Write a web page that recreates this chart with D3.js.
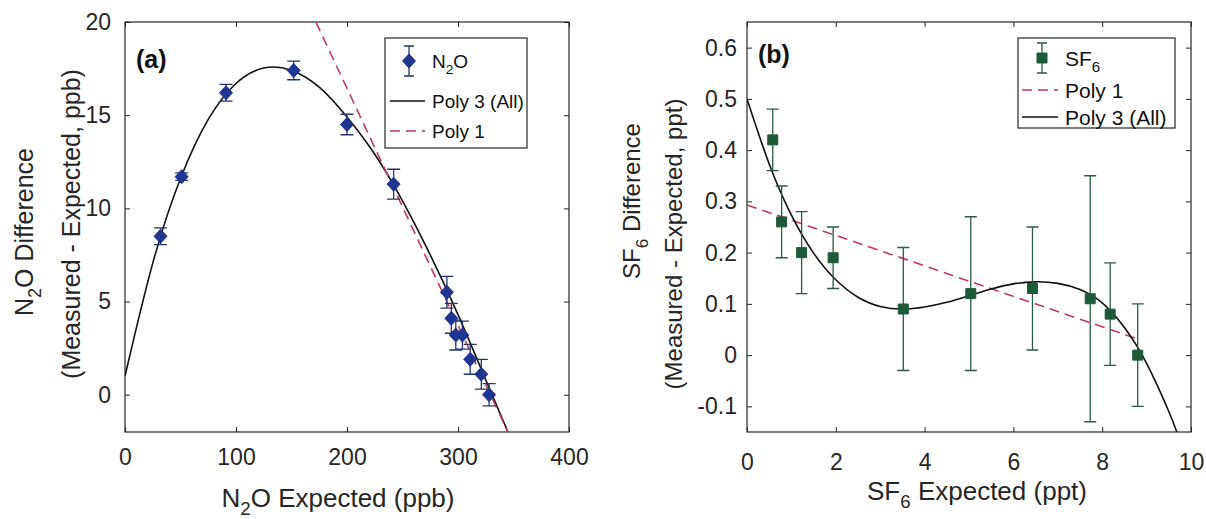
<!DOCTYPE html>
<html lang="en">
<head>
<meta charset="UTF-8">
<title>N2O and SF6 measured - expected differences</title>
<style>
  body { margin: 0; background: #fff; }
  svg { display: block; font-family: "Liberation Sans", Arial, Helvetica, sans-serif; }
</style>
</head>
<body>
<svg id="chart" width="1206" height="519"></svg>
<script src="https://cdnjs.cloudflare.com/ajax/libs/d3/7.8.5/d3.min.js"></script>
<script>

// ---- panel (a) : N2O ----
const n2oExpected = [32, 51, 91, 152, 200, 242, 290, 294, 298, 304, 311, 321, 328];
const n2oDiff     = [8.5, 11.7, 16.2, 17.4, 14.5, 11.3, 5.5, 4.1, 3.2, 3.2, 1.9, 1.1, 0.0];
const n2oErr      = [0.45, 0.2, 0.45, 0.5, 0.55, 0.8, 0.85, 0.8, 0.8, 0.75, 0.8, 0.8, 0.6];

// fitted curves
const n2oPoly3X = [0, 25, 50, 75, 100, 125, 150, 175, 200, 225, 250, 275, 300, 325, 345];
const n2oPoly3Y = [1.0, 7.06, 11.6, 14.77, 16.7, 17.53, 17.4, 16.5, 14.9, 12.9, 10.4, 7.5, 4.3, 0.8, -2.0];
const n2oPoly1X = [172, 345];
const n2oPoly1Y = [20, -2];

const n2oXTicks = [0, 100, 200, 300, 400];
const n2oYTicks = [0, 5, 10, 15, 20];

// ---- panel (b) : SF6 ----
const sf6Expected = [0.58, 0.78, 1.23, 1.94, 3.52, 5.04, 6.43, 7.73, 8.18, 8.8];
const sf6Diff     = [0.42, 0.26, 0.20, 0.19, 0.09, 0.12, 0.13, 0.11, 0.08, 0.0];
const sf6Err      = [0.06, 0.07, 0.08, 0.06, 0.12, 0.15, 0.12, 0.24, 0.10, 0.10];

const sf6Poly3X = [0, 0.5, 1, 1.5, 2, 2.5, 3, 3.5, 4, 4.5, 5, 5.5, 6, 6.5, 7, 7.5, 8, 8.5, 9, 9.5, 9.7];
const sf6Poly3Y = [0.50, 0.373, 0.273, 0.199, 0.147, 0.113, 0.095, 0.09, 0.094, 0.103, 0.116, 0.129, 0.139, 0.143, 0.140, 0.128, 0.102, 0.054, -0.016, -0.11, -0.155];
const sf6Poly1X = [0, 8.85];
const sf6Poly1Y = [0.293, 0.03];

const sf6XTicks = [0, 2, 4, 6, 8, 10];
const sf6YTicks = [-0.1, 0, 0.1, 0.2, 0.3, 0.4, 0.5, 0.6];

const axisColor = "#262626";
const plotTop = 22, plotBottom = 432;

let svg = d3.select("#chart");

// text with subscript pieces: [["N"],["2",true],["O Expected"]]
function richText(sel, parts, fs) {
  let sub = false;
  parts.forEach(p => {
    let t = sel.append("tspan").text(p[0]);
    if (p[1] && !sub) { t.attr("dy", 0.32 * fs).attr("font-size", 0.72 * fs); sub = true; }
    else if (!p[1] && sub) { t.attr("dy", -0.32 * fs).attr("font-size", fs); sub = false; }
  });
}

function drawPanel(p) {
  let g = svg.append("g");
  let x = d3.scaleLinear().domain(p.xDomain).range(p.xRange);
  let y = d3.scaleLinear().domain(p.yDomain).range([plotBottom, plotTop]);

  g.append("clipPath").attr("id", "clip" + p.id)
    .append("rect")
    .attr("x", p.xRange[0]).attr("y", plotTop)
    .attr("width", p.xRange[1] - p.xRange[0]).attr("height", plotBottom - plotTop);

  let fmt = d => String(+d.toFixed(1));

  let ax = [
    g.append("g").attr("transform", `translate(0,${plotBottom})`)
      .call(d3.axisBottom(x).tickValues(p.xTicks).tickFormat(fmt).tickSizeInner(-5).tickSizeOuter(0).tickPadding(p.xPad)),
    g.append("g").attr("transform", `translate(0,${plotTop})`)
      .call(d3.axisTop(x).tickValues(p.xTicks).tickFormat("").tickSizeInner(-5).tickSizeOuter(0)),
    g.append("g").attr("transform", `translate(${p.xRange[0]},0)`)
      .call(d3.axisLeft(y).tickValues(p.yTicks).tickFormat(fmt).tickSizeInner(-5).tickSizeOuter(0).tickPadding(p.yPad)),
    g.append("g").attr("transform", `translate(${p.xRange[1]},0)`)
      .call(d3.axisRight(y).tickValues(p.yTicks).tickFormat("").tickSizeInner(-5).tickSizeOuter(0))
  ];
  ax.forEach(a => {
    a.select(".domain").remove();
    a.selectAll(".tick line").attr("stroke", axisColor);
    a.selectAll(".tick text").attr("fill", axisColor)
      .attr("font-size", p.tickFs).attr("font-family", "Liberation Sans, Arial, sans-serif");
  });

  g.append("rect")
    .attr("x", p.xRange[0]).attr("y", plotTop)
    .attr("width", p.xRange[1] - p.xRange[0]).attr("height", plotBottom - plotTop)
    .attr("fill", "none").attr("stroke", axisColor).attr("stroke-width", 1.2);

  let plot = g.append("g").attr("clip-path", `url(#clip${p.id})`);

  let line = d3.line().x(d => x(d[0])).y(d => y(d[1]));

  // draw order per the figure
  p.lines.forEach(l => {
    plot.append("path")
      .datum(d3.zip(l.xs, l.ys))
      .attr("fill", "none")
      .attr("stroke", l.color)
      .attr("stroke-width", l.width)
      .attr("stroke-dasharray", l.dash || null)
      .attr("d", line.curve(l.curve || d3.curveLinear));
  });

  let pts = d3.zip(p.xs, p.ys, p.errs);

  let bars = g.append("g").attr("stroke", p.barColor).attr("stroke-width", 1.3);
  bars.selectAll(".eb").data(pts).enter().append("path")
    .attr("fill", "none")
    .attr("d", d => {
      let cx = x(d[0]), y0 = y(d[1] - d[2]), y1 = y(d[1] + d[2]), c = p.cap;
      return `M${cx},${y0}V${y1}M${cx - c},${y0}H${cx + c}M${cx - c},${y1}H${cx + c}`;
    });

  g.append("g").selectAll(".mk").data(pts).enter().append("path")
    .attr("fill", p.markerColor)
    .attr("stroke", p.markerColor)
    .attr("d", d => p.marker(x(d[0]), y(d[1])));

  // panel letter
  g.append("text")
    .attr("x", p.letterPos[0]).attr("y", p.letterPos[1])
    .attr("font-size", 25).attr("font-weight", "bold").attr("fill", "#111")
    .text(p.letter);

  // axis labels
  let xl = g.append("text")
    .attr("x", (p.xRange[0] + p.xRange[1]) / 2 + p.xLabelDx).attr("y", p.xLabelY)
    .attr("text-anchor", "middle").attr("font-size", p.xLabelFs).attr("fill", axisColor);
  richText(xl, p.xLabel, p.xLabelFs);

  p.yLabel.forEach(yl => {
    let t = g.append("text")
      .attr("transform", `translate(${yl.x},${yl.y}) rotate(-90)`)
      .attr("text-anchor", "middle").attr("font-size", p.labelFs).attr("fill", axisColor);
    richText(t, yl.parts, p.labelFs);
  });

  // legend
  let L = p.legend;
  let lg = g.append("g");
  lg.append("rect")
    .attr("x", L.x).attr("y", L.y).attr("width", L.w).attr("height", L.h)
    .attr("fill", "#fff").attr("stroke", axisColor).attr("stroke-width", 1.2);
  L.items.forEach(it => {
    if (it.type === "marker") {
      let cx = L.x + L.symX;
      lg.append("path").attr("stroke", p.barColor).attr("stroke-width", 1.3).attr("fill", "none")
        .attr("d", `M${cx},${it.y - 15}V${it.y + 15}M${cx - 5},${it.y - 15}H${cx + 5}M${cx - 5},${it.y + 15}H${cx + 5}`);
      lg.append("path").attr("fill", p.markerColor).attr("stroke", p.markerColor)
        .attr("d", p.marker(cx, it.y));
    } else {
      lg.append("line")
        .attr("x1", L.x + L.lineX[0]).attr("x2", L.x + L.lineX[1])
        .attr("y1", it.y).attr("y2", it.y)
        .attr("stroke", it.color).attr("stroke-width", it.width)
        .attr("stroke-dasharray", it.dash || null);
    }
    let t = lg.append("text")
      .attr("x", L.x + L.textX).attr("y", it.y + L.fs * 0.36)
      .attr("font-size", L.fs).attr("fill", "#111");
    richText(t, it.label, L.fs);
  });
}

const fitColor = "#111111";
const poly1Color = "#bf3b5a";

drawPanel({
  id: "a",
  xDomain: [0, 400], xRange: [125, 569],
  yDomain: [-2, 20],
  xTicks: n2oXTicks, yTicks: n2oYTicks,
  xPad: 17, yPad: 14, tickFs: 23, labelFs: 25, xLabelFs: 26,
  xs: n2oExpected, ys: n2oDiff, errs: n2oErr,
  barColor: "#26346b", markerColor: "#1f3590", cap: 6.5,
  marker: (cx, cy) => `M${cx},${cy - 7}L${cx + 6.5},${cy}L${cx},${cy + 7}L${cx - 6.5},${cy}Z`,
  lines: [
    { xs: n2oPoly3X, ys: n2oPoly3Y, color: fitColor, width: 1.6, curve: d3.curveNatural },
    { xs: n2oPoly1X, ys: n2oPoly1Y, color: poly1Color, width: 1.6, dash: "10,6" }
  ],
  letter: "(a)", letterPos: [136, 68],
  xLabel: [["N"], ["2", true], ["O Expected (ppb)"]], xLabelDx: -9, xLabelY: 507,
  yLabel: [
    { x: 33, y: 232, parts: [["N"], ["2", true], ["O Difference"]] },
    { x: 80, y: 224, parts: [["(Measured - Expected, ppb)"]] }
  ],
  legend: {
    x: 385, y: 38, w: 142, h: 110, fs: 19,
    symX: 24, lineX: [5, 40], textX: 47,
    items: [
      { type: "marker", y: 61, label: [["N"], ["2", true], ["O"]] },
      { type: "line", y: 101, color: fitColor, width: 1.6, label: [["Poly 3 (All)"]] },
      { type: "line", y: 131, color: poly1Color, width: 1.6, dash: "10,6", label: [["Poly 1"]] }
    ]
  }
});

drawPanel({
  id: "b",
  xDomain: [0, 10], xRange: [747, 1191],
  yDomain: [-0.15, 0.65],
  xTicks: sf6XTicks, yTicks: sf6YTicks,
  xPad: 22, yPad: 10, tickFs: 23, labelFs: 24, xLabelFs: 26,
  xs: sf6Expected, ys: sf6Diff, errs: sf6Err,
  barColor: "#2c5a44", markerColor: "#1d5a3a", cap: 6,
  marker: (cx, cy) => `M${cx - 5},${cy - 5}H${cx + 5}V${cy + 5}H${cx - 5}Z`,
  lines: [
    { xs: sf6Poly1X, ys: sf6Poly1Y, color: poly1Color, width: 1.6, dash: "10,6" },
    { xs: sf6Poly3X, ys: sf6Poly3Y, color: fitColor, width: 1.6, curve: d3.curveNatural }
  ],
  letter: "(b)", letterPos: [758, 63],
  xLabel: [["SF"], ["6", true], [" Expected (ppt)"]], xLabelDx: 8, xLabelY: 500,
  yLabel: [
    { x: 640, y: 201, parts: [["SF"], ["6", true], [" Difference"]] },
    { x: 682, y: 244, parts: [["(Measured - Expected, ppt)"]] }
  ],
  legend: {
    x: 1018, y: 38, w: 157, h: 90, fs: 21,
    symX: 24, lineX: [4, 40], textX: 47,
    items: [
      { type: "marker", y: 58, label: [["SF"], ["6", true]] },
      { type: "line", y: 90, color: poly1Color, width: 1.6, dash: "10,6", label: [["Poly 1"]] },
      { type: "line", y: 117, color: fitColor, width: 1.6, label: [["Poly 3 (All)"]] }
    ]
  }
});

</script>
</body>
</html>
